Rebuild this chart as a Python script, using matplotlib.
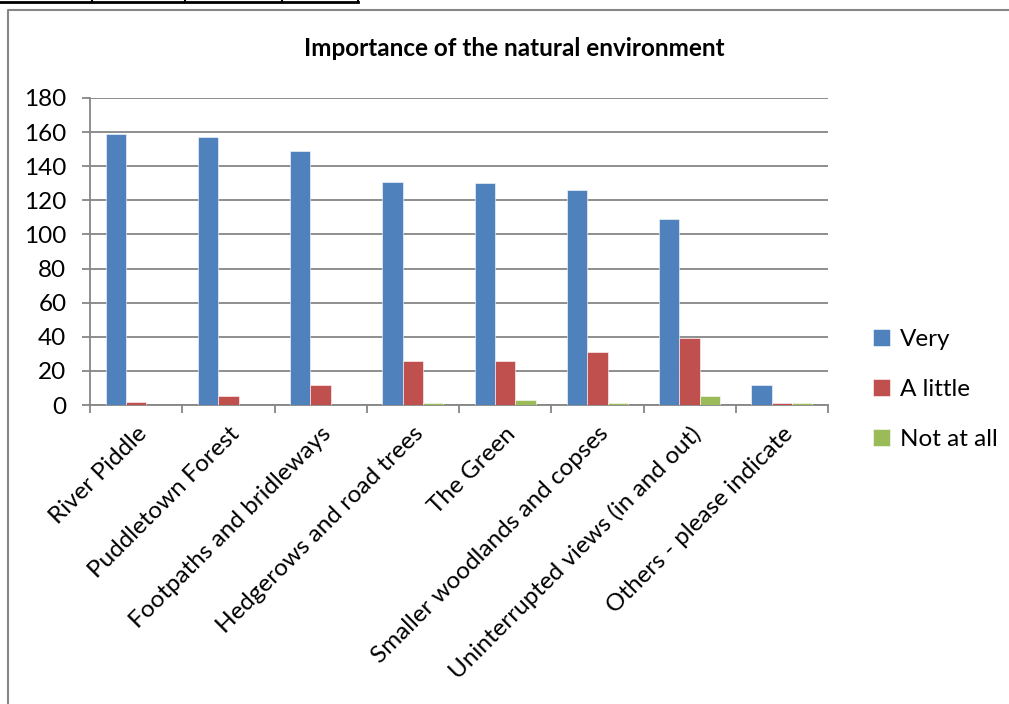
import matplotlib.pyplot as plt
from matplotlib.lines import Line2D
import numpy as np

plt.rcParams['font.family'] = ['Lato', 'DejaVu Sans']

categories = ['River Piddle', 'Puddletown Forest', 'Footpaths and bridleways',
              'Hedgerows and road trees', 'The Green', 'Smaller woodlands and copses',
              'Uninterrupted views (in and out)', 'Others - please indicate']
very = [159, 157, 149, 131, 130, 126, 109, 12]
a_little = [2, 5, 12, 26, 26, 31, 39, 1]
not_at_all = [0, 0, 0, 1, 3, 1, 5, 1]
series = [('Very', very, '#4F81BD'), ('A little', a_little, '#C0504D'),
          ('Not at all', not_at_all, '#9BBB59')]

fig = plt.figure(figsize=(10.09, 7.04), dpi=100)
ax = fig.add_axes([90/1009, 1 - 405/704, 738/1009, 307/704])

x = np.arange(len(categories))
w = 0.22
for i, (name, vals, col) in enumerate(series):
    ax.bar(x + (i - 1)*w, vals, w, color=col, label=name, zorder=3,
           edgecolor='white', linewidth=0.4)

ax.set_xlim(-0.5, len(categories) - 0.5)
ax.set_ylim(0, 180)
ax.set_yticks(range(0, 181, 20))
ax.yaxis.grid(True, color='#868686', linewidth=1.3, zorder=0)
ax.set_xticks(np.arange(-0.5, len(categories), 1))
ax.set_xticklabels([])
ax.set_xticks(x, minor=True)
ax.set_xticklabels(categories, minor=True, rotation=45, ha='right',
                   rotation_mode='anchor', fontsize=17.5)
ax.tick_params(axis='x', which='minor', length=0, pad=13)
ax.tick_params(axis='x', which='major', length=6, width=1.3, color='#868686')
ax.tick_params(axis='y', length=6, width=1.3, color='#868686', labelsize=17.5, pad=11)
for s in ['top', 'right']:
    ax.spines[s].set_visible(False)
for s in ['left', 'bottom']:
    ax.spines[s].set_color('#868686')
    ax.spines[s].set_linewidth(1.3)

fig.text(514/1009, 1 - 48/704, 'Importance of the natural environment', fontsize=17.5,
         fontweight='bold', ha='center', va='center')

ax.legend(loc='center left', bbox_to_anchor=(761/738, 0.05), frameon=False,
          fontsize=17.5, handlelength=0.7, handleheight=0.7, labelspacing=1.2,
          handletextpad=0.4)

# chart border and table fragment above it
fig.add_artist(Line2D([8/1009, 8/1009, 1.0], [0, 1 - 10/704, 1 - 10/704],
                      color='#868686', linewidth=1.5))
fig.add_artist(Line2D([0, 358/1009], [1 - 2/704, 1 - 2/704], color='black', linewidth=2))
for xp in [92, 185, 282, 358]:
    fig.add_artist(Line2D([xp/1009, xp/1009], [1 - 2/704, 1.0], color='black', linewidth=1.5))

fig.savefig('out.png', dpi=100)
